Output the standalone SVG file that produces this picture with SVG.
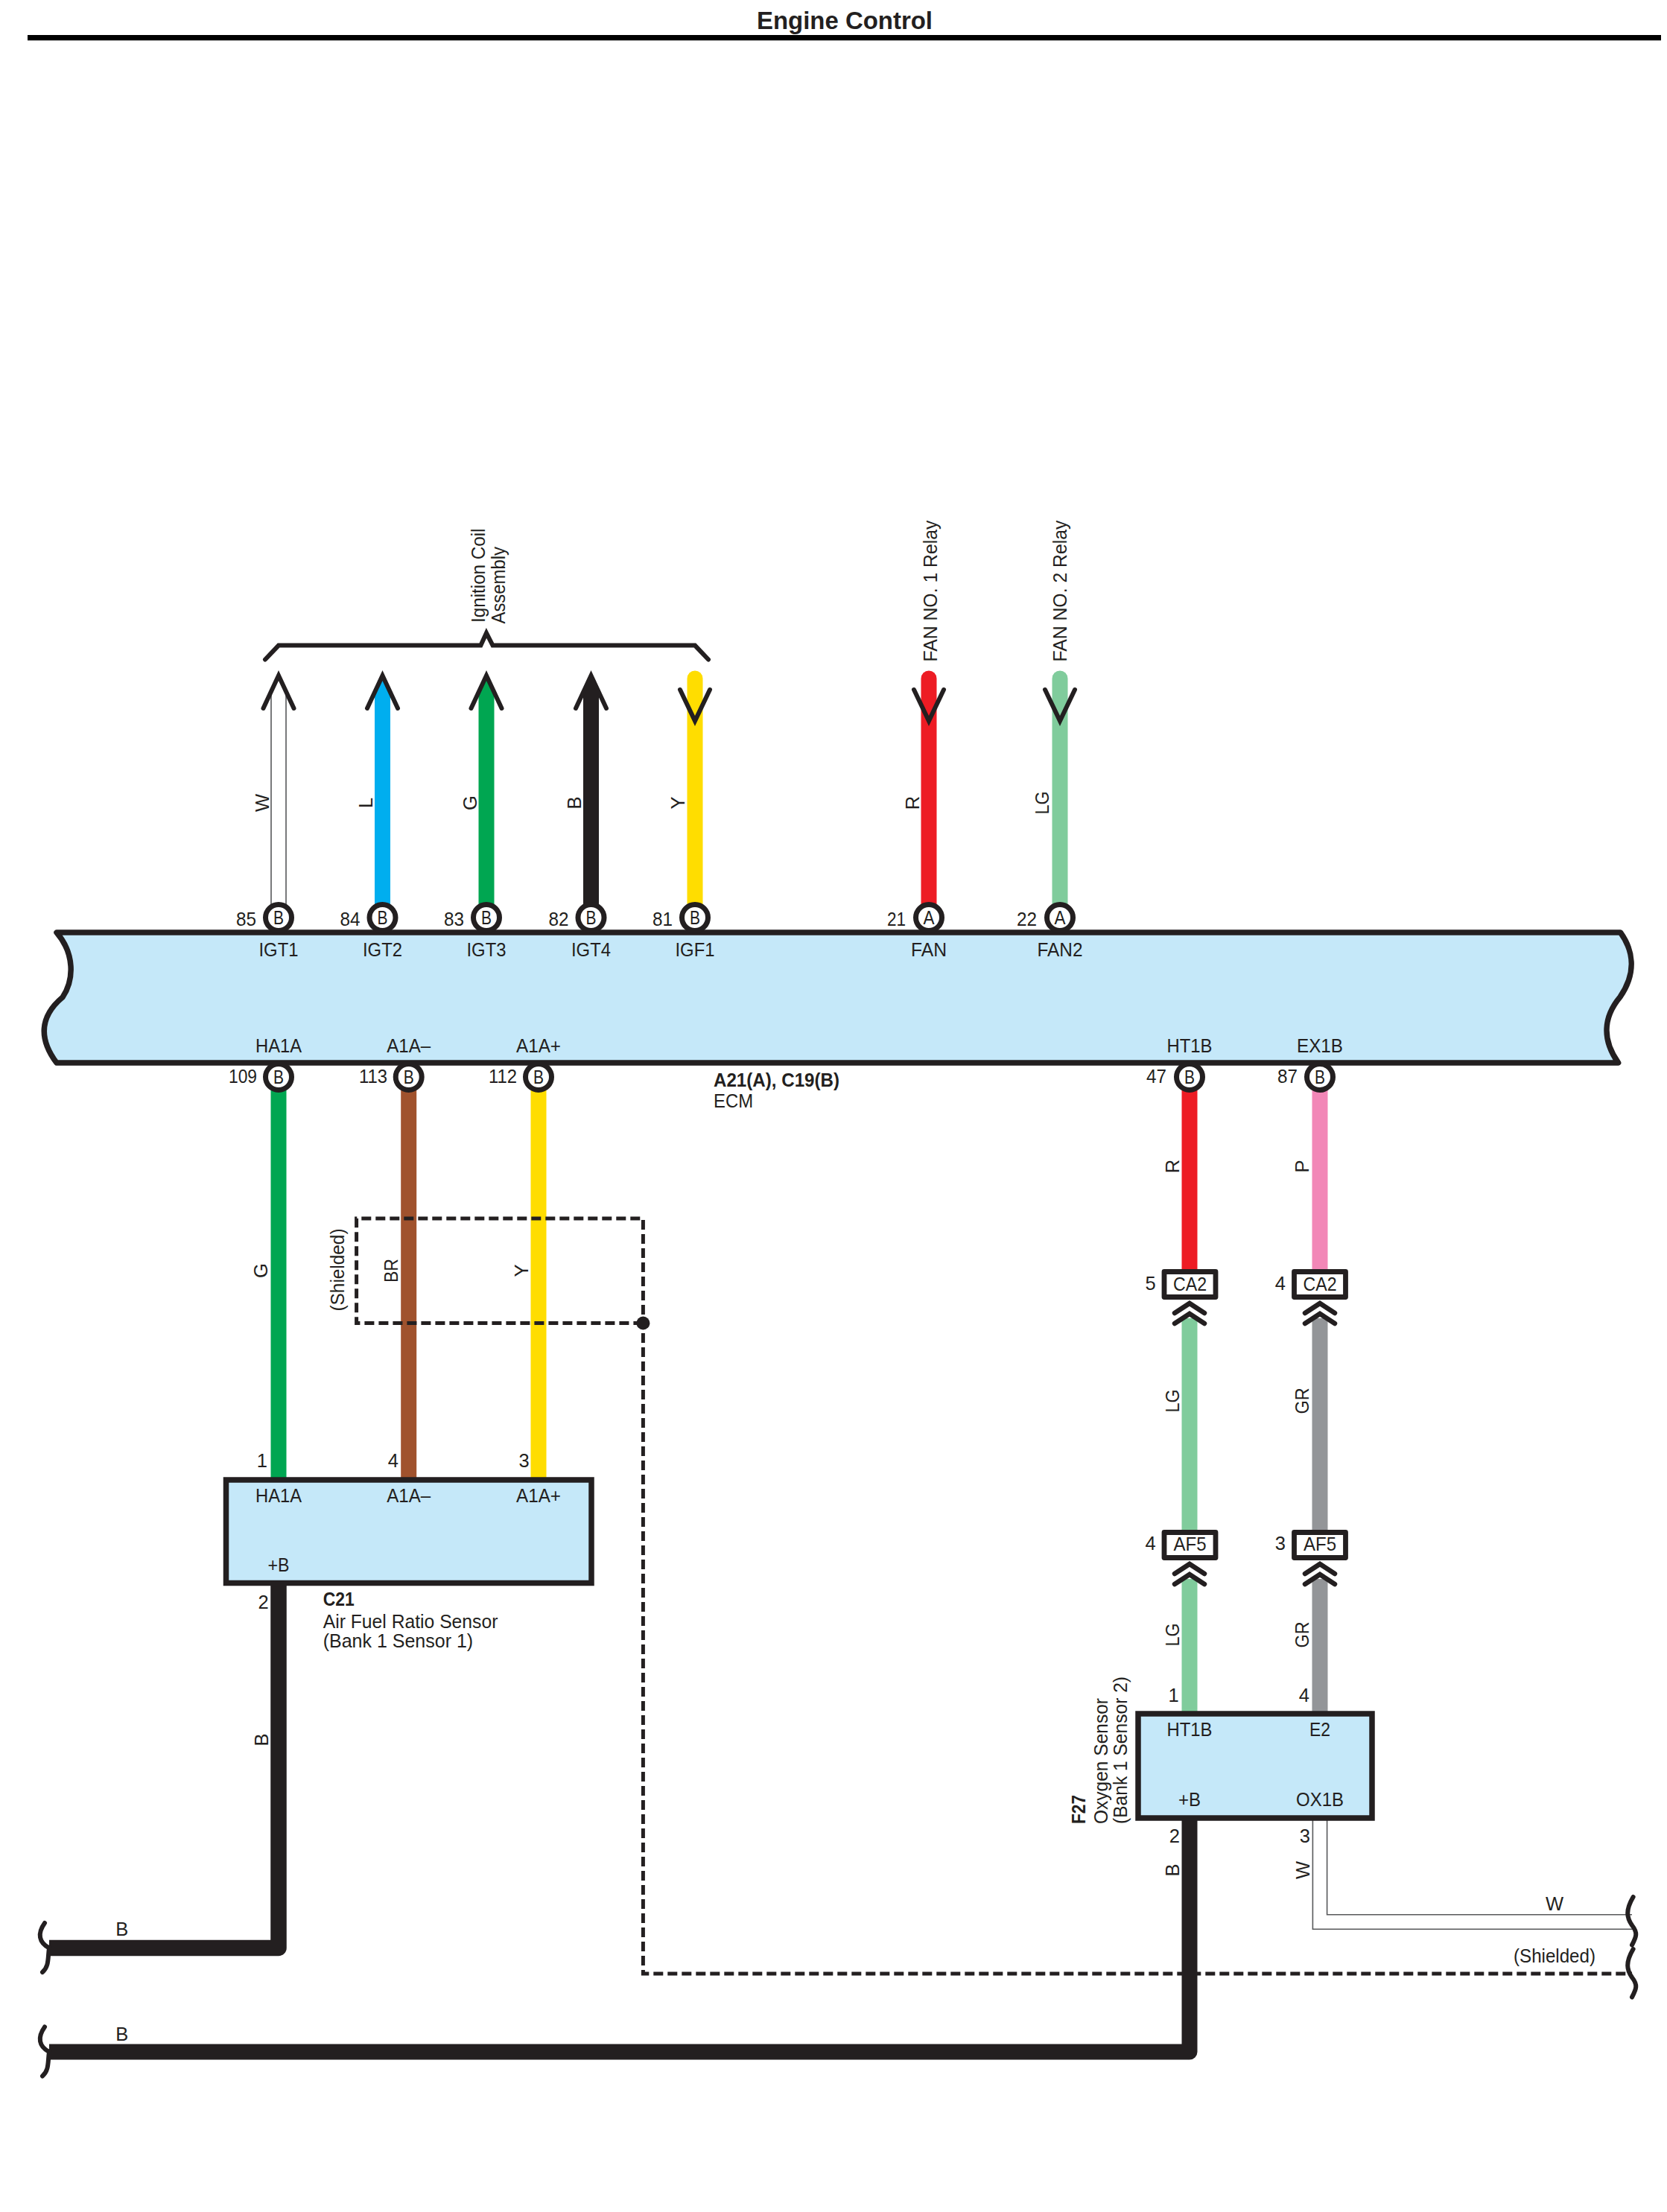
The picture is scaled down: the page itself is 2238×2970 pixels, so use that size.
<svg xmlns="http://www.w3.org/2000/svg" width="2238" height="2970" viewBox="0 0 2238 2970">
<style>
text{font-family:"Liberation Sans",Arial,sans-serif;font-size:25.5px;fill:#231f20;lengthAdjust:spacingAndGlyphs}
.b{font-weight:bold}
.m{text-anchor:middle}
.e{text-anchor:end}
.w{fill:none;stroke-width:21;stroke-linecap:butt}
.r{stroke-linecap:round}
.head{fill:none;stroke:#231f20;stroke-width:6;stroke-linecap:round;stroke-linejoin:miter}
.pin{fill:#fff;stroke:#231f20;stroke-width:7}
.box{fill:#c5e8f9;stroke:#231f20;stroke-width:7.5;stroke-linejoin:miter}
.conn{fill:#fff;stroke:#231f20;stroke-width:6.8;stroke-linejoin:round}
.chev{fill:none;stroke:#231f20;stroke-width:6.5;stroke-linecap:round;stroke-linejoin:miter}
.thin{fill:none;stroke:#58595b;stroke-width:1.6}
.dash{fill:none;stroke:#231f20;stroke-width:5;stroke-dasharray:13 6}
.brace{fill:none;stroke:#231f20;stroke-width:6;stroke-linecap:round}
</style>
<defs>
<g id="up"><path class="head" d="M-20.500 44L0 0L20.500 44"/></g>
<g id="down"><path class="head" d="M-20 0L0 42L20 0"/></g>
<g id="dchev"><path class="chev" d="M-20 18L0 5L20 18"/><path class="chev" d="M-20 32L0 19L20 32"/></g>
</defs>

<g id="title">
<text class="b m" x="1134" y="39" style="font-size:33px" textLength="236" lengthAdjust="spacingAndGlyphs">Engine Control</text>
<rect x="37" y="47" width="2193" height="7.300" fill="#000"/>
</g>

<g id="connectors">
<path fill="#00aeef" d="M503 1225V929.500L513.500 907L524 929.500V1225Z"/>
<path fill="#00a651" d="M642.500 1225V929.500L653 907L663.500 929.500V1225Z"/>
<path fill="#231f20" d="M783 1225V929.500L793.500 907L804 929.500V1225Z"/>
<line class="w r" stroke="#ffdd00" x1="933" y1="911" x2="933" y2="1225"/>
<line class="w r" stroke="#ed1c24" x1="1247" y1="911" x2="1247" y2="1225"/>
<line class="w r" stroke="#80cc9c" x1="1423" y1="911" x2="1423" y2="1225"/>
<path class="thin" d="M364 1215V929M384 1215V929"/>

<line class="w" stroke="#00a651" x1="374" y1="1450" x2="374" y2="1987"/>
<line class="w" stroke="#a0522d" x1="548.700" y1="1450" x2="548.700" y2="1987"/>
<line class="w" stroke="#ffdd00" x1="723" y1="1450" x2="723" y2="1987"/>
<line class="w" stroke="#ed1c24" x1="1597" y1="1450" x2="1597" y2="1706"/>
<line class="w" stroke="#f287b7" x1="1772" y1="1450" x2="1772" y2="1706"/>
<line class="w" stroke="#80cc9c" x1="1597" y1="1770" x2="1597" y2="2056"/>
<line class="w" stroke="#939598" x1="1772" y1="1770" x2="1772" y2="2056"/>
<line class="w" stroke="#80cc9c" x1="1597" y1="2120" x2="1597" y2="2301"/>
<line class="w" stroke="#939598" x1="1772" y1="2120" x2="1772" y2="2301"/>

<path class="dash" d="M863.400 1776.500H478.600V1636H863.400V1776.500V2650H2191"/>
<circle cx="863.400" cy="1776.500" r="9" fill="#231f20"/>

<path fill="none" stroke="#231f20" stroke-width="21.500" stroke-linejoin="round" d="M374 2125V2615.500H66"/>
<path fill="none" stroke="#231f20" stroke-width="21" stroke-linejoin="round" d="M1597 2441V2755H66"/>
<path class="thin" d="M1781.600 2441V2570.700H2191M1762.400 2441V2590.300H2193"/>

<path class="brace" d="M60 2582C50 2596 52 2608 66 2615.500C64 2630 66 2640 57 2648"/>
<path class="brace" d="M60 2721.500C50 2735.500 52 2747.500 66 2755C64 2769.500 66 2779.500 57 2787.500"/>
<path class="brace" d="M2192.600 2547C2182 2565 2184 2575 2191 2585C2199 2595 2197 2600 2191 2611.500"/>
<path class="brace" d="M2192.600 2617C2182 2635 2184 2645 2191 2655C2199 2665 2197 2670 2191 2681.500"/>

<path class="brace" d="M356 885.500L374 866.600H645.400L653 850L661.500 866.600H933L951 885.500"/>
<use href="#up" x="374" y="907"/>
<use href="#up" x="513.500" y="907"/>
<use href="#up" x="653" y="907"/>
<use href="#up" x="793.500" y="907"/>
<use href="#down" x="933" y="926"/>
<use href="#down" x="1247" y="926"/>
<use href="#down" x="1423" y="926"/>
</g>

<g id="wire-labels">
<text class="m" transform="translate(361 1078) rotate(-90)">W</text>
<text class="m" transform="translate(499.500 1078) rotate(-90)">L</text>
<text class="m" transform="translate(640 1078) rotate(-90)">G</text>
<text class="m" transform="translate(780 1078) rotate(-90)">B</text>
<text class="m" transform="translate(919 1078) rotate(-90)">Y</text>
<text class="m" transform="translate(1234 1078) rotate(-90)">R</text>
<text class="m" transform="translate(1408 1078) rotate(-90)" textLength="31" lengthAdjust="spacingAndGlyphs">LG</text>
<text class="m" transform="translate(359.400 1706) rotate(-90)">G</text>
<text class="m" transform="translate(534.400 1706) rotate(-90)" textLength="32" lengthAdjust="spacingAndGlyphs">BR</text>
<text class="m" transform="translate(709 1706) rotate(-90)">Y</text>
<text class="m" transform="translate(462 1705) rotate(-90)" textLength="111" lengthAdjust="spacingAndGlyphs">(Shielded)</text>
<text class="m" transform="translate(1583 1566) rotate(-90)">R</text>
<text class="m" transform="translate(1757.300 1566) rotate(-90)">P</text>
<text class="m" transform="translate(1582.700 1881) rotate(-90)" textLength="31" lengthAdjust="spacingAndGlyphs">LG</text>
<text class="m" transform="translate(1757.300 1881) rotate(-90)" textLength="35" lengthAdjust="spacingAndGlyphs">GR</text>
<text class="m" transform="translate(1582.700 2195) rotate(-90)" textLength="31" lengthAdjust="spacingAndGlyphs">LG</text>
<text class="m" transform="translate(1757.300 2195) rotate(-90)" textLength="35" lengthAdjust="spacingAndGlyphs">GR</text>
<text class="m" transform="translate(359.700 2336) rotate(-90)">B</text>
<text class="m" transform="translate(1583 2511) rotate(-90)">B</text>
<text class="m" transform="translate(1758 2511) rotate(-90)">W</text>
<text class="m" x="163.800" y="2599">B</text>
<text class="m" x="163.800" y="2739.500">B</text>
<text class="m" x="2087" y="2565">W</text>
<text class="m" x="2087" y="2635" textLength="110" lengthAdjust="spacingAndGlyphs">(Shielded)</text>
</g>

<g id="destinations">
<text transform="translate(651 836) rotate(-90)" textLength="126.500" lengthAdjust="spacingAndGlyphs">Ignition Coil</text>
<text transform="translate(677.600 837.500) rotate(-90)" textLength="103.500" lengthAdjust="spacingAndGlyphs">Assembly</text>
<text transform="translate(1257.500 888.600) rotate(-90)" textLength="190" lengthAdjust="spacingAndGlyphs">FAN NO. 1 Relay</text>
<text transform="translate(1431.600 888.600) rotate(-90)" textLength="190" lengthAdjust="spacingAndGlyphs">FAN NO. 2 Relay</text>
</g>

<g id="ecm">
<path class="box" style="stroke-linejoin:round" d="M76 1252H2175.500C2192 1275 2198 1305 2175 1338.600C2153 1365 2150 1395 2172.600 1427H76C52 1395 53 1365 84 1339C100 1315 100 1280 76 1252Z"/>
<g class="labels">
<text class="m" x="374" y="1283.500" textLength="53" lengthAdjust="spacingAndGlyphs">IGT1</text>
<text class="m" x="513.500" y="1283.500" textLength="53" lengthAdjust="spacingAndGlyphs">IGT2</text>
<text class="m" x="653" y="1283.500" textLength="53" lengthAdjust="spacingAndGlyphs">IGT3</text>
<text class="m" x="793.500" y="1283.500" textLength="53" lengthAdjust="spacingAndGlyphs">IGT4</text>
<text class="m" x="933" y="1283.500" textLength="53" lengthAdjust="spacingAndGlyphs">IGF1</text>
<text class="m" x="1247" y="1283.500" textLength="48" lengthAdjust="spacingAndGlyphs">FAN</text>
<text class="m" x="1423" y="1283.500" textLength="61" lengthAdjust="spacingAndGlyphs">FAN2</text>
<text class="m" x="374" y="1412.500" textLength="62" lengthAdjust="spacingAndGlyphs">HA1A</text>
<text class="m" x="548.700" y="1412.500" textLength="59" lengthAdjust="spacingAndGlyphs">A1A–</text>
<text class="m" x="723" y="1412.500" textLength="60" lengthAdjust="spacingAndGlyphs">A1A+</text>
<text class="m" x="1597" y="1412.500" textLength="61" lengthAdjust="spacingAndGlyphs">HT1B</text>
<text class="m" x="1772" y="1412.500" textLength="62" lengthAdjust="spacingAndGlyphs">EX1B</text>
<text class="b" x="958" y="1459" textLength="169" lengthAdjust="spacingAndGlyphs">A21(A), C19(B)</text>
<text x="958" y="1487" textLength="53" lengthAdjust="spacingAndGlyphs">ECM</text>
</g>
</g>

<g id="ecm-pins">
<circle class="pin" cx="374" cy="1232" r="17.500"/><text class="m" x="374" y="1241" textLength="14" lengthAdjust="spacingAndGlyphs">B</text><text class="e" x="344" y="1243" textLength="27" lengthAdjust="spacingAndGlyphs">85</text>
<circle class="pin" cx="513.500" cy="1232" r="17.500"/><text class="m" x="513.500" y="1241" textLength="14" lengthAdjust="spacingAndGlyphs">B</text><text class="e" x="483.500" y="1243" textLength="27" lengthAdjust="spacingAndGlyphs">84</text>
<circle class="pin" cx="653" cy="1232" r="17.500"/><text class="m" x="653" y="1241" textLength="14" lengthAdjust="spacingAndGlyphs">B</text><text class="e" x="623" y="1243" textLength="27" lengthAdjust="spacingAndGlyphs">83</text>
<circle class="pin" cx="793.500" cy="1232" r="17.500"/><text class="m" x="793.500" y="1241" textLength="14" lengthAdjust="spacingAndGlyphs">B</text><text class="e" x="763.500" y="1243" textLength="27" lengthAdjust="spacingAndGlyphs">82</text>
<circle class="pin" cx="933" cy="1232" r="17.500"/><text class="m" x="933" y="1241" textLength="14" lengthAdjust="spacingAndGlyphs">B</text><text class="e" x="903" y="1243" textLength="27" lengthAdjust="spacingAndGlyphs">81</text>
<circle class="pin" cx="1247" cy="1232" r="17.500"/><text class="m" x="1247" y="1241" textLength="15" lengthAdjust="spacingAndGlyphs">A</text><text class="e" x="1216" y="1243" textLength="25" lengthAdjust="spacingAndGlyphs">21</text>
<circle class="pin" cx="1423" cy="1232" r="17.500"/><text class="m" x="1423" y="1241" textLength="15" lengthAdjust="spacingAndGlyphs">A</text><text class="e" x="1392" y="1243" textLength="27" lengthAdjust="spacingAndGlyphs">22</text>
<circle class="pin" cx="374" cy="1446" r="17.500"/><text class="m" x="374" y="1455" textLength="14" lengthAdjust="spacingAndGlyphs">B</text><text class="e" x="345" y="1453.500" textLength="38" lengthAdjust="spacingAndGlyphs">109</text>
<circle class="pin" cx="548.700" cy="1446" r="17.500"/><text class="m" x="548.700" y="1455" textLength="14" lengthAdjust="spacingAndGlyphs">B</text><text class="e" x="520" y="1453.500" textLength="38" lengthAdjust="spacingAndGlyphs">113</text>
<circle class="pin" cx="723" cy="1446" r="17.500"/><text class="m" x="723" y="1455" textLength="14" lengthAdjust="spacingAndGlyphs">B</text><text class="e" x="694" y="1453.500" textLength="38" lengthAdjust="spacingAndGlyphs">112</text>
<circle class="pin" cx="1597" cy="1446" r="17.500"/><text class="m" x="1597" y="1455" textLength="14" lengthAdjust="spacingAndGlyphs">B</text><text class="e" x="1566" y="1453.500" textLength="27" lengthAdjust="spacingAndGlyphs">47</text>
<circle class="pin" cx="1772" cy="1446" r="17.500"/><text class="m" x="1772" y="1455" textLength="14" lengthAdjust="spacingAndGlyphs">B</text><text class="e" x="1742" y="1453.500" textLength="27" lengthAdjust="spacingAndGlyphs">87</text>
</g>

<g id="c21">
<rect class="box" x="303.500" y="1987" width="490.500" height="138.500"/>
<text class="m" x="374" y="2017" textLength="62" lengthAdjust="spacingAndGlyphs">HA1A</text>
<text class="m" x="548.700" y="2017" textLength="59" lengthAdjust="spacingAndGlyphs">A1A–</text>
<text class="m" x="723" y="2017" textLength="60" lengthAdjust="spacingAndGlyphs">A1A+</text>
<text class="m" x="374" y="2110" textLength="29" lengthAdjust="spacingAndGlyphs">+B</text>
<text class="e" x="359" y="1970">1</text>
<text class="e" x="535" y="1970">4</text>
<text class="e" x="710.700" y="1970">3</text>
<text class="e" x="360.700" y="2160">2</text>
<text class="b" x="433.700" y="2156" textLength="42" lengthAdjust="spacingAndGlyphs">C21</text>
<text x="433.700" y="2186.400" textLength="234.700" lengthAdjust="spacingAndGlyphs">Air Fuel Ratio Sensor</text>
<text x="433.700" y="2211.700" textLength="201.500" lengthAdjust="spacingAndGlyphs">(Bank 1 Sensor 1)</text>
</g>

<g id="f27">
<rect class="box" x="1528" y="2301" width="314" height="140"/>
<text class="m" x="1597" y="2331" textLength="61" lengthAdjust="spacingAndGlyphs">HT1B</text>
<text class="m" x="1772" y="2331" textLength="28" lengthAdjust="spacingAndGlyphs">E2</text>
<text class="m" x="1597" y="2424.500" textLength="30" lengthAdjust="spacingAndGlyphs">+B</text>
<text class="m" x="1772" y="2424.500" textLength="64" lengthAdjust="spacingAndGlyphs">OX1B</text>
<text class="e" x="1582.700" y="2285.400">1</text>
<text class="e" x="1758" y="2285.400">4</text>
<text class="e" x="1584" y="2474">2</text>
<text class="e" x="1759" y="2474">3</text>
<text class="b" transform="translate(1457 2449) rotate(-90)" textLength="39" lengthAdjust="spacingAndGlyphs">F27</text>
<text transform="translate(1487 2449) rotate(-90)" textLength="169" lengthAdjust="spacingAndGlyphs">Oxygen Sensor</text>
<text transform="translate(1513 2449) rotate(-90)" textLength="198" lengthAdjust="spacingAndGlyphs">(Bank 1 Sensor 2)</text>
</g>

<g id="ca2-left"><rect class="conn" x="1563" y="1707.500" width="69" height="34"/><text class="m" x="1597.500" y="1733" textLength="45" lengthAdjust="spacingAndGlyphs">CA2</text><text class="e" x="1551.700" y="1732">5</text><use href="#dchev" x="1597" y="1745"/></g>
<g id="ca2-right"><rect class="conn" x="1737.500" y="1707.500" width="69" height="34"/><text class="m" x="1772" y="1733" textLength="45" lengthAdjust="spacingAndGlyphs">CA2</text><text class="e" x="1726" y="1732">4</text><use href="#dchev" x="1772" y="1745"/></g>
<g id="af5-left"><rect class="conn" x="1563" y="2057.500" width="69" height="34"/><text class="m" x="1597.500" y="2082" textLength="44" lengthAdjust="spacingAndGlyphs">AF5</text><text class="e" x="1551.700" y="2081">4</text><use href="#dchev" x="1597" y="2095"/></g>
<g id="af5-right"><rect class="conn" x="1737.500" y="2057.500" width="69" height="34"/><text class="m" x="1772" y="2082" textLength="44" lengthAdjust="spacingAndGlyphs">AF5</text><text class="e" x="1726" y="2081">3</text><use href="#dchev" x="1772" y="2095"/></g>
</svg>
